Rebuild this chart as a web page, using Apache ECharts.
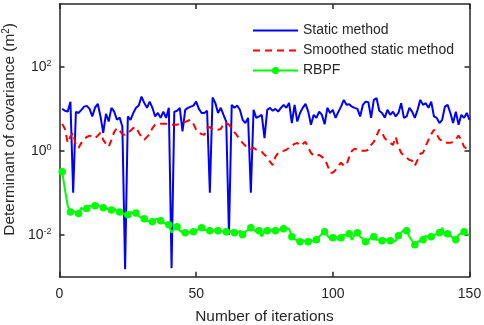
<!DOCTYPE html>
<html>
<head>
<meta charset="utf-8">
<script src="https://cdn.jsdelivr.net/npm/echarts@6/dist/echarts.min.js"></script>
<style>html,body{margin:0;padding:0;background:#fff;}#c{width:484px;height:325px;}</style>
</head>
<body>
<div id="c"></div>
<script>
// Iterations 1..150
var staticMethod = [
10.0,9.0,8.6,14.7,0.1,8.5,8.0,9.5,11.3,11.8,
10.0,6.6,10.7,13.2,6.6,2.7,7.6,5.0,10.6,8.6,
5.5,6.2,3.8,0.0015,6.6,5.5,8.0,10.6,12.0,19.6,
13.9,10.6,14.9,10.6,6.6,8.0,6.1,8.6,6.1,10.6,
0.0016,8.5,9.0,10.6,2.9,9.5,10.6,11.3,12.0,14.9,
10.0,8.0,8.0,9.0,0.1,18.6,13.9,8.0,10.6,7.2,
5.0,0.01,12.5,10.6,12.0,9.5,5.5,4.6,6.1,0.1,
9.5,6.1,6.6,7.2,2.0,9.5,10.6,9.0,10.0,8.6,
10.6,12.5,10.6,13.9,4.6,12.5,5.0,8.0,10.6,13.2,
8.6,4.2,7.2,6.1,8.6,7.2,4.3,10.6,8.0,9.5,
6.1,8.5,11.3,16.4,12.5,12.9,11.3,10.6,10.0,6.6,
12.5,14.9,14.4,6.1,16.4,18.0,9.0,8.0,6.2,9.5,
7.2,8.6,6.6,8.0,13.7,6.1,6.6,10.6,8.6,6.1,
9.5,16.4,12.5,13.7,10.6,14.9,6.6,6.1,4.6,5.5,
11.3,12.5,8.0,4.6,8.6,4.2,7.2,6.1,8.0,5.5];
var smoothedStatic = [
4.4,3.3,1.55,2.2,2.7,1.32,1.18,1.55,1.9,2.15,
2.3,2.15,2.0,2.3,2.7,1.83,1.47,1.25,1.83,2.8,
3.5,3.0,2.5,2.4,2.8,3.0,3.5,3.7,2.7,2.15,
1.83,2.15,2.5,3.5,4.2,4.4,4.4,4.4,4.4,4.2,
4.2,4.2,4.2,4.4,4.6,4.9,5.2,5.5,4.4,3.2,
2.7,2.5,2.4,3.5,3.7,3.2,3.2,3.2,3.3,4.4,
4.6,4.2,3.5,2.8,2.3,1.83,1.55,1.32,1.25,1.12,
1.18,1.06,1.0,0.95,0.80,0.72,0.55,0.46,0.72,0.90,
0.95,1.0,1.06,1.18,1.32,1.47,1.55,1.32,1.47,1.64,
1.18,0.90,0.76,0.76,0.80,0.72,0.65,0.46,0.30,0.30,
0.35,0.44,0.52,0.44,0.46,0.72,1.0,1.12,1.06,1.0,
1.0,1.0,1.06,1.39,1.64,2.3,3.2,2.7,2.0,1.73,
1.55,1.39,2.15,1.25,0.90,0.76,0.68,0.61,0.58,0.44,
0.61,0.85,0.90,1.32,1.83,2.5,3.2,2.5,1.9,1.73,
1.55,1.55,1.55,1.64,1.9,2.3,1.83,1.25,1.12,1.06];
var rbpf = [
0.316,0.118,0.049,0.035,0.037,0.033,0.032,0.044,0.039,0.042,
0.049,0.046,0.049,0.052,0.046,0.044,0.044,0.039,0.039,0.042,
0.037,0.035,0.033,0.030,0.030,0.035,0.032,0.033,0.028,0.025,
0.024,0.0215,0.0204,0.0204,0.023,0.024,0.0215,0.0193,0.0183,0.0173,
0.0112,0.0139,0.0155,0.0125,0.0112,0.0112,0.0118,0.0112,0.0118,0.0125,
0.0139,0.0147,0.0132,0.0125,0.0125,0.0118,0.0132,0.0125,0.0125,0.0118,
0.0118,0.0112,0.0125,0.0112,0.0106,0.0125,0.0100,0.0118,0.0132,0.0147,
0.0132,0.0118,0.0125,0.0090,0.0125,0.0125,0.0132,0.0125,0.0125,0.0132,
0.0132,0.0139,0.0139,0.0139,0.0090,0.0080,0.0072,0.0068,0.0072,0.0072,
0.0068,0.0076,0.0068,0.0076,0.0090,0.0106,0.0118,0.0095,0.0080,0.0085,
0.0090,0.0076,0.0085,0.0100,0.0095,0.0106,0.0076,0.0100,0.0112,0.0090,
0.0080,0.0068,0.0076,0.0085,0.0090,0.0076,0.0076,0.0072,0.0080,0.0072,
0.0072,0.0068,0.0072,0.0095,0.0112,0.0132,0.0125,0.0090,0.0072,0.0058,
0.0068,0.0072,0.0076,0.0095,0.0085,0.0090,0.0095,0.0106,0.0112,0.0147,
0.0095,0.0106,0.0100,0.0080,0.0076,0.0100,0.0112,0.0118,0.0106,0.0095];
var seriesNames = ['Static method', 'Smoothed static method', 'RBPF'];
var xTicks = [0, 50, 100, 150];
var yTicks = [0.01, 1, 100];

var FONT = 'Liberation Sans, Arial, Helvetica, sans-serif';
var AX = '#262626';
function pairs(arr){ return arr.map(function(v,i){ return [i+1, v]; }); }
var rbpfData = rbpf.map(function(v,i){ return {value:[i+1, v], symbol: (i % 3 === 0) ? 'circle' : 'none'}; });

var chart = echarts.init(document.getElementById('c'), null, {renderer:'canvas'});
var xBase = {
  type:'value', min:0, max:150, interval:50,
  axisLine:{show:true, onZero:false, lineStyle:{color:AX, width:1.5}},
  axisTick:{show:true, inside:true, length:5, lineStyle:{color:AX, width:1.5}, customValues: xTicks},
  splitLine:{show:false}
};
var yBase = {
  type:'log', logBase:10, min:0.001, max:3162.2777,
  axisLine:{show:true, onZero:false, lineStyle:{color:AX, width:1.5}},
  axisTick:{show:true, inside:true, length:5, lineStyle:{color:AX, width:1.5}, customValues: yTicks},
  splitLine:{show:false}
};
var option = {
  animation:false,
  backgroundColor:'#fff',
  grid:{left:59.5, right:14.5, top:4, bottom:48.3, containLabel:false, outerBoundsMode:'none'},
  legend:{
    left:252, top:22.5, padding:0, orient:'vertical', itemWidth:45, itemHeight:9, itemGap:4,
    textStyle:{fontFamily:FONT, fontSize:14, color:AX, lineHeight:16},
    data: [
      {name:seriesNames[0], itemStyle:{opacity:0}},
      {name:seriesNames[1], itemStyle:{opacity:0}},
      {name:seriesNames[2]}
    ]
  },
  xAxis:[
    Object.assign({}, xBase, {position:'bottom',
      axisLabel:{show:true, fontFamily:FONT, fontSize:14, color:AX, margin:10, customValues: xTicks},
      name:'Number of iterations', nameLocation:'middle', nameGap:33,
      nameTextStyle:{fontFamily:FONT, fontSize:15.4, color:AX}}),
    Object.assign({}, xBase, {position:'top', axisLabel:{show:false}})
  ],
  yAxis:[
    Object.assign({}, yBase, {position:'left',
      axisLabel:{show:true, margin:8, customValues: yTicks,
        formatter:function(v){ var e = Math.round(Math.log(v)/Math.LN10); return '{b|10}{s|' + e + '}'; },
        rich:{b:{fontFamily:FONT, fontSize:14, color:AX}, s:{fontFamily:FONT, fontSize:9, color:AX, verticalAlign:'top', padding:[0,0,6,0]}}},
      name:'{t|Determinant of covariance (m}{s|2}{t|)}', nameLocation:'middle', nameGap:36,
      nameTextStyle:{padding:[0,0,0,22], rich:{t:{fontFamily:FONT, fontSize:15.4, color:AX}, s:{fontFamily:FONT, fontSize:10, color:AX, verticalAlign:'top', padding:[0,0,6,0]}}}}),
    Object.assign({}, yBase, {position:'right', axisLabel:{show:false}})
  ],
  series:[
    {name:seriesNames[0], type:'line', data:pairs(staticMethod), showSymbol:false, symbol:'none',
     lineStyle:{color:'#0000ff', width:2}, itemStyle:{color:'#0000ff'}},
    {name:seriesNames[1], type:'line', data:pairs(smoothedStatic), showSymbol:false, symbol:'none',
     lineStyle:{color:'#ff0000', width:2, type:[7,5]}, itemStyle:{color:'#ff0000'}},
    {name:seriesNames[2], type:'line', data:rbpfData, symbol:'circle', symbolSize:7.5, showAllSymbol:true,
     lineStyle:{color:'#00ff00', width:2}, itemStyle:{color:'#00ff00'}}
  ]
};
chart.setOption(option);
</script>
</body>
</html>
